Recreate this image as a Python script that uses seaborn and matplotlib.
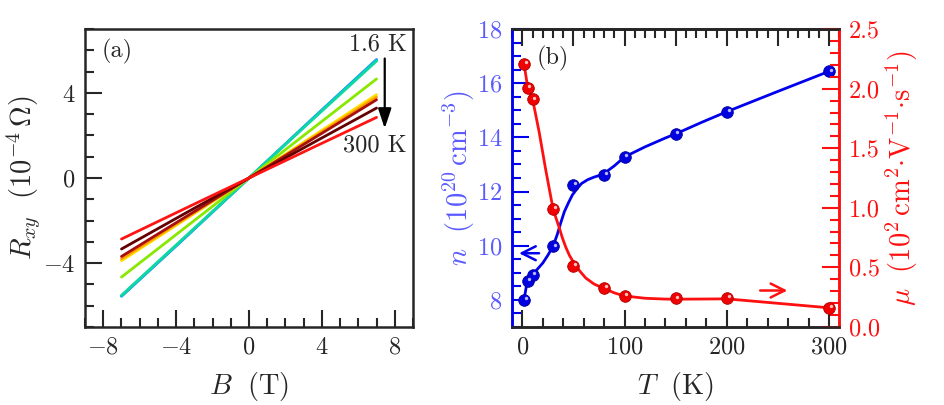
import matplotlib
matplotlib.use("Agg")
import matplotlib.pyplot as plt
from matplotlib.ticker import MultipleLocator
from matplotlib.transforms import offset_copy
import seaborn as sns
import pandas as pd

# panel (a): Hall resistance vs field, one line per temperature
field = [-7, -3.5, 0, 3.5, 7]
hall_curves = {
    "1.6 K": [-5.56, -2.80, 0, 2.80, 5.57],
    "5 K":   [-5.55, -2.78, 0, 2.79, 5.55],
    "10 K":  [-5.52, -2.76, 0, 2.76, 5.50],
    "30 K":  [-4.66, -2.33, 0, 2.33, 4.66],
    "50 K":  [-3.89, -1.95, 0, 1.96, 3.92],
    "80 K":  [-3.80, -1.90, 0, 1.90, 3.80],
    "100 K": [-3.69, -1.84, 0, 1.84, 3.68],
    "150 K": [-3.34, -1.66, 0, 1.65, 3.29],
    "300 K": [-2.87, -1.43, 0, 1.43, 2.85],
}
hall_colors = ["#2a6cff", "#00b8f0", "#10d8a0", "#88e800", "#ffe000",
               "#ff9a00", "#a81010", "#640000", "#ff1414"]

# panel (b): carrier density and mobility vs temperature
temp = [1.6, 5, 10, 30, 50, 80, 100, 150, 200, 300]
density = [8.0, 8.71, 8.92, 9.97, 12.25, 12.6, 13.27, 14.13, 14.95, 16.44]
mobility = [2.21, 2.01, 1.91, 0.99, 0.515, 0.327, 0.257, 0.238, 0.243, 0.159]

# smooth guide lines
fit_t_n = [1.6, 5, 10, 20, 25, 30, 34, 37.5, 41, 45, 49, 54, 58, 64, 70, 79,
           90, 100, 120, 140, 150, 175, 200, 250, 300]
fit_n = [8.0, 8.75, 8.93, 9.36, 9.65, 9.98, 10.4, 10.84, 11.25, 11.58, 11.88,
         12.13, 12.3, 12.44, 12.53, 12.64, 12.95, 13.28, 13.65, 13.98, 14.13,
         14.55, 14.95, 15.7, 16.44]
fit_t_mu = [1.6, 5, 10, 16.3, 22.8, 30, 33, 35.8, 39, 42.4, 46, 50.5, 56, 62,
            70, 79, 90, 99.4, 120, 140, 150, 200, 300]
fit_mu = [2.21, 2.02, 1.91, 1.64, 1.32, 0.99, 0.91, 0.84, 0.75, 0.67, 0.6,
          0.535, 0.47, 0.41, 0.36, 0.325, 0.285, 0.26, 0.24, 0.233, 0.232,
          0.235, 0.16]

sns.set_style("ticks")
plt.rcParams["font.family"] = "serif"
plt.rcParams["font.serif"] = ["cmr10"]
plt.rcParams["mathtext.fontset"] = "cm"
plt.rcParams["axes.formatter.use_mathtext"] = True
plt.rcParams["axes.unicode_minus"] = True

BLUE = "#0000ee"
LBLUE = "#5a5aff"
RED = "#ff1010"
TICK_FS = 17.5
LABEL_FS = 20.5
TEXT_FS = 17.5

fig = plt.figure(figsize=(9.45, 4.05), dpi=100)
ax1 = fig.add_axes([0.090, 0.193, 0.347, 0.735])
ax2 = fig.add_axes([0.542, 0.193, 0.346, 0.735])

# ---- panel (a)
rows = []
for name, vals in hall_curves.items():
    for b, r in zip(field, vals):
        rows.append({"B": b, "R": r, "T": name})
df_a = pd.DataFrame(rows)
sns.lineplot(data=df_a, x="B", y="R", hue="T", palette=hall_colors,
             estimator=None, sort=False, lw=2.0, legend=False, ax=ax1)
ax1.set_xlim(-9, 9)
ax1.set_ylim(-7, 7)
ax1.xaxis.set_major_locator(MultipleLocator(4))
ax1.xaxis.set_minor_locator(MultipleLocator(1))
ax1.yaxis.set_major_locator(MultipleLocator(4))
ax1.yaxis.set_minor_locator(MultipleLocator(1))
ax1.tick_params(which="both", direction="in", width=1.5, labelsize=TICK_FS,
                top=False, right=False, pad=7)
ax1.tick_params(which="major", length=12)
ax1.tick_params(which="minor", length=6.5)
for s in ax1.spines.values():
    s.set_linewidth(1.8)
ax1.set_xlabel(r"$B\ \ (\mathrm{T})$", fontsize=LABEL_FS, labelpad=8)
ax1.set_ylabel(r"$R_{xy}\ \ (10^{-4}\,\Omega)$", fontsize=LABEL_FS, labelpad=0)
ax1.text(-8.07, 5.96, "(a)", fontsize=TEXT_FS, ha="left", va="center")
ax1.text(8.67, 6.27, "1.6 K", fontsize=TEXT_FS, ha="right", va="center")
ax1.text(8.67, 1.53, "300 K", fontsize=TEXT_FS, ha="right", va="center")
ax1.annotate("", xy=(7.45, 2.2), xytext=(7.45, 5.75),
             arrowprops=dict(arrowstyle="-|>,head_length=0.6,head_width=0.2",
                             color="k", lw=1.6, mutation_scale=20))

# ---- panel (b)
ax3 = ax2.twinx()
sns.lineplot(x=fit_t_n, y=fit_n, color=BLUE, lw=2.0, sort=False,
             estimator=None, ax=ax2)
sns.scatterplot(x=temp, y=density, color="#0000e0", s=70, edgecolor="#00009a",
                linewidth=0.6, zorder=5, ax=ax2)
sns.scatterplot(x=temp, y=density, color="#b8b8ff", s=6, linewidth=0,
                zorder=6, ax=ax2,
                transform=offset_copy(ax2.transData, fig, x=1.8, y=1.8,
                                      units="dots"))
sns.lineplot(x=fit_t_mu, y=fit_mu, color=RED, lw=2.0, sort=False,
             estimator=None, ax=ax3)
sns.scatterplot(x=temp, y=mobility, color="#f00000", s=70, edgecolor="#b00000",
                linewidth=0.6, zorder=5, ax=ax3)
sns.scatterplot(x=temp, y=mobility, color="#ffc0c0", s=6, linewidth=0,
                zorder=6, ax=ax3,
                transform=offset_copy(ax3.transData, fig, x=1.8, y=1.8,
                                      units="dots"))

ax2.set_xlim(-10, 310)
ax2.set_ylim(7, 18)
ax3.set_ylim(0, 2.5)
ax2.xaxis.set_major_locator(MultipleLocator(100))
ax2.xaxis.set_minor_locator(MultipleLocator(20))
ax2.yaxis.set_major_locator(MultipleLocator(2))
ax2.yaxis.set_minor_locator(MultipleLocator(0.5))
ax3.yaxis.set_major_locator(MultipleLocator(0.5))
ax3.yaxis.set_minor_locator(MultipleLocator(0.1))
ax3.yaxis.set_major_formatter(lambda v, p: f"{v:.1f}")

ax2.tick_params(which="both", direction="in", width=1.5, labelsize=TICK_FS,
                top=False, right=False, pad=7)
ax2.tick_params(which="major", length=12)
ax2.tick_params(which="minor", length=6.5)
ax2.tick_params(axis="y", which="both", color=BLUE, labelcolor=LBLUE)
ax3.tick_params(which="both", direction="in", width=1.5, labelsize=TICK_FS,
                color=RED, labelcolor=RED, pad=7)
ax3.tick_params(which="major", length=12)
ax3.tick_params(which="minor", length=6.5)

top = ax2.secondary_xaxis("top")
top.xaxis.set_major_locator(MultipleLocator(50))
top.xaxis.set_minor_locator(MultipleLocator(10))
top.tick_params(which="both", direction="in", width=1.5, labeltop=False)
top.tick_params(which="major", length=12)
top.tick_params(which="minor", length=6.5)
top.spines["top"].set_linewidth(1.8)

for a in (ax2, ax3):
    for s in a.spines.values():
        s.set_linewidth(1.8)
    a.spines["left"].set_color(BLUE)
    a.spines["right"].set_color(RED)

ax2.set_xlabel(r"$T\ \ (\mathrm{K})$", fontsize=LABEL_FS, labelpad=8)
ax2.set_ylabel(r"$n\ \ (10^{20}\,\mathrm{cm}^{-3})$", fontsize=LABEL_FS,
               color=LBLUE, labelpad=0)
ax3.set_ylabel(r"$\mu\ \ (10^{2}\,\mathrm{cm}^{2}{\cdot}\mathrm{V}^{-1}{\cdot}\mathrm{s}^{-1})$",
               fontsize=LABEL_FS, color=RED, labelpad=3)
ax2.text(14, 16.93, "(b)", fontsize=TEXT_FS, ha="left", va="center")
ax2.annotate("", xy=(-6, 9.72), xytext=(19, 9.72),
             arrowprops=dict(arrowstyle="->,head_length=0.5,head_width=0.25",
                             color=BLUE, lw=1.8, mutation_scale=20))
ax3.annotate("", xy=(262, 0.305), xytext=(230, 0.305),
             arrowprops=dict(arrowstyle="->,head_length=0.5,head_width=0.25",
                             color=RED, lw=1.8, mutation_scale=20))

fig.savefig("out.png", dpi=100)
